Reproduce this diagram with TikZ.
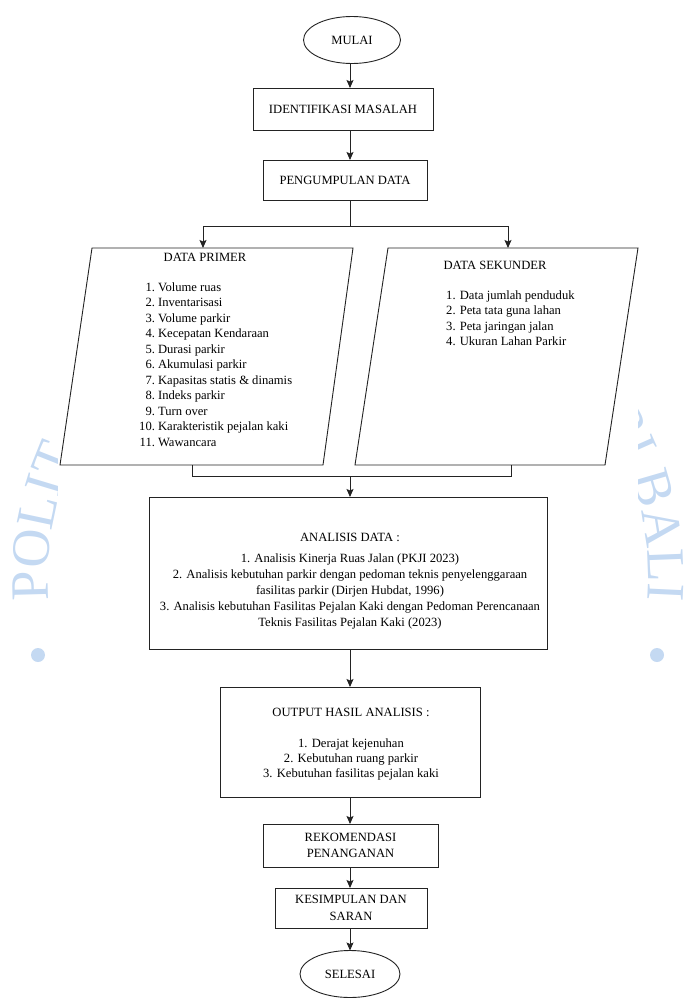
\documentclass[tikz,border=0pt]{standalone}
\usepackage{fontspec}
\setmainfont{Liberation Serif}
\newfontfamily\wmfont{Liberation Serif}
\usetikzlibrary{shapes.geometric,arrows.meta,decorations.text}
\definecolor{wm}{RGB}{196,217,242}
\definecolor{ln}{RGB}{35,35,35}
\begin{document}
\begin{tikzpicture}[x=1pt,y=1pt,
  font=\fontsize{12.6}{15.5}\selectfont,
  box/.style={draw=ln, line width=0.9pt, fill=white, rectangle, inner sep=0pt, outer sep=0pt, align=center},
  term/.style={draw=ln, line width=0.9pt, fill=white, ellipse, inner sep=0pt, outer sep=0pt},
  para/.style={draw=ln, line width=0.9pt, fill=white, line join=miter},
  txt/.style={inner sep=0pt, anchor=base},
  arr/.style={draw=ln, line width=0.9pt, -{Stealth[length=8pt,width=7pt,inset=1.5pt]}},
  con/.style={draw=ln, line width=0.9pt}]
\useasboundingbox (0,0) rectangle (686,-999);
% watermark (only its outer parts show beside the chart)
\path[decorate, decoration={text along path, text align=left,
  text={|\wmfont\fontsize{54}{54}\selectfont\color{wm}|POLIT}}]
  (348,-577) ++(184.4:300) arc[start angle=184.4, end angle=120, radius=300];
\path[decorate, decoration={text along path, text align=right,
  text={|\wmfont\fontsize{54}{54}\selectfont\color{wm}|RI BALI}}]
  (348,-577) ++(60:300) arc[start angle=60, end angle=-4.4, radius=300];
\fill[wm] (38,-655) circle (7);
\fill[wm] (657,-655) circle (7);
\fill[white] (58,0) rectangle (638,-999);
% parallelograms
\coordinate (primTL) at (92,-248);
\coordinate (primTR) at (353,-248);
\coordinate (primBR) at (323,-465);
\coordinate (primBL) at (60,-465);
\coordinate (sekTL) at (388,-248);
\coordinate (sekTR) at (638,-248);
\coordinate (sekBR) at (605,-465);
\coordinate (sekBL) at (355,-465);
\draw[para] (primTL) -- (primTR) -- (primBR) -- (primBL) -- cycle;
\draw[para] (sekTL) -- (sekTR) -- (sekBR) -- (sekBL) -- cycle;
% nodes
\node[term, minimum width=97, minimum height=47] (mulai) at (352,-40) {MULAI};
\node[box, minimum width=180, minimum height=42] (ident) at (343,-109) {IDENTIFIKASI MASALAH};
\node[box, minimum width=164, minimum height=40] (peng) at (345,-180) {PENGUMPULAN DATA};
\node[txt] (primt) at (205,-261) {DATA PRIMER};
\node[anchor=base west, inner sep=0pt] (priml) at (139,-291) {\begin{tabular}[t]{@{}r@{\ }l@{}}
1.&Volume ruas\\
2.&Inventarisasi\\
3.&Volume parkir\\
4.&Kecepatan Kendaraan\\
5.&Durasi parkir\\
6.&Akumulasi parkir\\
7.&Kapasitas statis \& dinamis\\
8.&Indeks parkir\\
9.&Turn over\\
10.&Karakteristik pejalan kaki\\
11.&Wawancara
\end{tabular}};
\node[txt] (sekt) at (495,-269) {DATA SEKUNDER};
\node[anchor=base west, inner sep=0pt] (sekl) at (446,-299) {\begin{tabular}[t]{@{}l@{}}
1. Data jumlah penduduk\\
2. Peta tata guna lahan\\
3. Peta jaringan jalan\\
4. Ukuran Lahan Parkir
\end{tabular}};
\node[box, minimum width=398, minimum height=152] (anal) at (348,-573) {};
\node[txt] (analt) at (350,-541) {ANALISIS DATA :};
\node[txt, font=\fontsize{12.6}{16}\selectfont] (anall) at (350,-562) {\begin{tabular}[t]{@{}c@{}}
1. Analisis Kinerja Ruas Jalan (PKJI 2023)\\
2. Analisis kebutuhan parkir dengan pedoman teknis penyelenggaraan\\
fasilitas parkir (Dirjen Hubdat, 1996)\\
3. Analisis kebutuhan Fasilitas Pejalan Kaki dengan Pedoman Perencanaan\\
Teknis Fasilitas Pejalan Kaki (2023)
\end{tabular}};
\node[box, minimum width=260, minimum height=110] (out) at (350,-742) {};
\node[txt] (outt) at (351,-716) {OUTPUT HASIL ANALISIS :};
\node[txt, font=\fontsize{12.6}{15}\selectfont] (outl) at (351,-747) {\begin{tabular}[t]{@{}c@{}}
1. Derajat kejenuhan\\
2. Kebutuhan ruang parkir\\
3. Kebutuhan fasilitas pejalan kaki
\end{tabular}};
\node[box, minimum width=175, minimum height=43] (rek) at (350.5,-845.5) {REKOMENDASI\\PENANGANAN};
\node[box, minimum width=152, minimum height=40, font=\fontsize{12.6}{16.5}\selectfont] (kes) at (351,-908) {KESIMPULAN DAN\\SARAN};
\node[term, minimum width=100, minimum height=47] (sel) at (350,-974) {SELESAI};
% connectors
\coordinate (ax) at (350,0);
\coordinate (sp) at (350,-226);
\coordinate (spl) at (203,-226);
\coordinate (spr) at (508,-226);
\coordinate (jl) at (192,-476);
\coordinate (jr) at (511,-476);
\draw[arr] (ax |- mulai.south) -- (ax |- ident.north);
\draw[arr] (ax |- ident.south) -- (ax |- peng.north);
\draw[con] (ax |- peng.south) -- (sp);
\draw[con] (spl) -- (spr);
\draw[arr] (spl) -- (spl |- primTL);
\draw[arr] (spr) -- (spr |- sekTL);
\draw[con] (jl |- primBL) -- (jl) -- (jr) -- (jr |- sekBL);
\draw[arr] (ax |- jl) -- (ax |- anal.north);
\draw[arr] (ax |- anal.south) -- (ax |- out.north);
\draw[arr] (ax |- out.south) -- (ax |- rek.north);
\draw[arr] (ax |- rek.south) -- (ax |- kes.north);
\draw[arr] (ax |- kes.south) -- (ax |- sel.north);
\end{tikzpicture}
\end{document}
